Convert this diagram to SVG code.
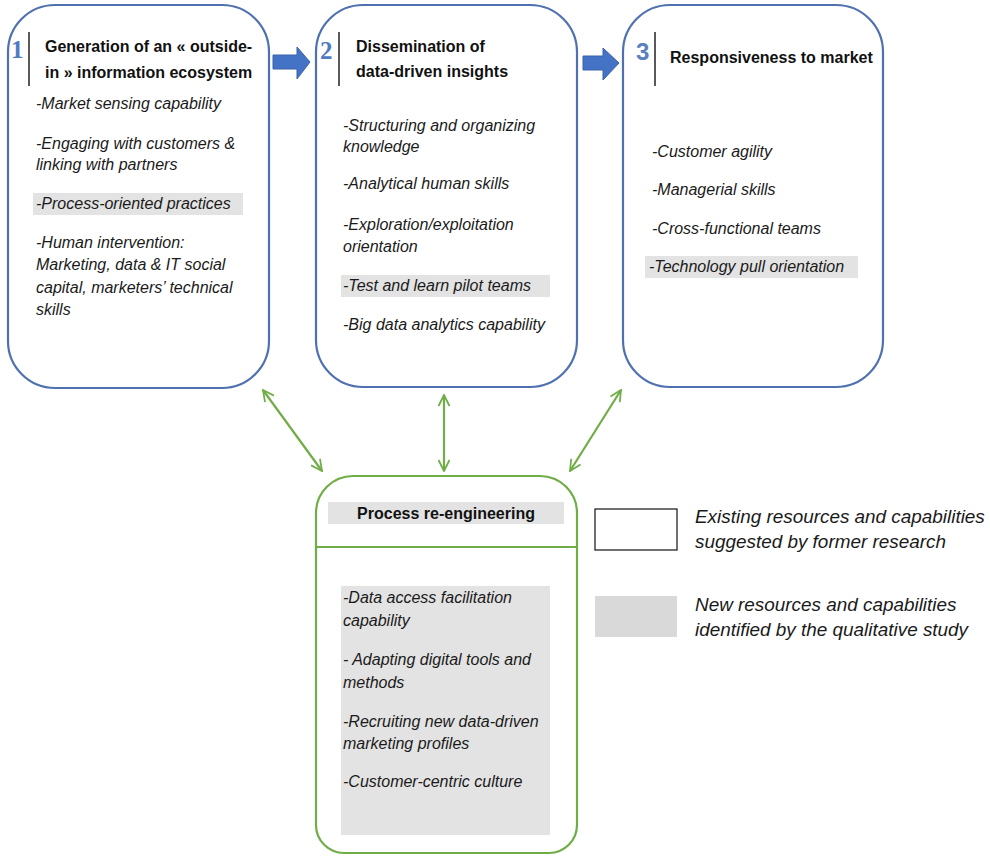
<svg xmlns="http://www.w3.org/2000/svg" width="990" height="857" viewBox="0 0 990 857">
  <style>
    .box { fill: #ffffff; stroke: #4f71b0; stroke-width: 2.2; }
    .gbox { fill: #ffffff; stroke: #70ad47; stroke-width: 2.2; }
    .hl { fill: #e3e3e3; }
    .num { font-family: "Liberation Serif", serif; font-weight: bold; font-size: 25px; fill: #4f7bc0; }
    .numsans { font-family: "Liberation Sans", Arial, sans-serif; font-weight: bold; font-size: 24px; fill: #5a80c0; }
    .bar { stroke: #222222; stroke-width: 1.5; }
    .title { font-family: "Liberation Sans", Arial, sans-serif; font-weight: bold; font-size: 16px; fill: #111111; }
    .item { font-family: "Liberation Sans", Arial, sans-serif; font-style: italic; font-size: 16px; fill: #1a1a1a; }
    .legend { font-family: "Liberation Sans", Arial, sans-serif; font-style: italic; font-size: 18.9px; fill: #1a1a1a; }
    .blue-arrow { fill: #4472c4; stroke: #3a62a8; stroke-width: 1; }
    .conn { stroke: #70ad47; stroke-width: 2.2; fill: none; marker-start: url(#chev); marker-end: url(#chev); }
  </style>
  <defs>
    <marker id="chev" viewBox="0 0 12 12" refX="11" refY="6" markerWidth="6" markerHeight="6" orient="auto-start-reverse" markerUnits="strokeWidth">
      <path d="M1,1 L11,6 L1,11" fill="none" stroke="#70ad47" stroke-width="1.6"/>
    </marker>
  </defs>
  <rect width="990" height="857" fill="#ffffff"/>

  <g id="node1">
    <rect class="box" x="8" y="5" width="261" height="383" rx="47" ry="47"/>
    <text class="num" x="11" y="58">1</text>
    <line class="bar" x1="29" y1="32" x2="29" y2="86"/>
    <text class="title" x="45" y="52">Generation of an « outside-</text>
    <text class="title" x="45" y="78">in » information ecosystem</text>
    <text class="item" x="36" y="109">-Market sensing capability</text>
    <text class="item" x="36" y="149">-Engaging with customers &amp;</text>
    <text class="item" x="36" y="170">linking with partners</text>
    <rect class="hl" x="33" y="193" width="210" height="22"/>
    <text class="item" x="36" y="209">-Process-oriented practices</text>
    <text class="item" x="36" y="248">-Human intervention:</text>
    <text class="item" x="36" y="270">Marketing, data &amp; IT social</text>
    <text class="item" x="36" y="293">capital, marketers’ technical</text>
    <text class="item" x="36" y="315">skills</text>
  </g>

  <g id="node2">
    <rect class="box" x="316" y="5" width="261" height="382" rx="47" ry="47"/>
    <text class="num" x="320" y="59">2</text>
    <line class="bar" x1="339" y1="32" x2="339" y2="86"/>
    <text class="title" x="356" y="52">Dissemination of</text>
    <text class="title" x="356" y="77">data-driven insights</text>
    <text class="item" x="343" y="131">-Structuring and organizing</text>
    <text class="item" x="343" y="152">knowledge</text>
    <text class="item" x="343" y="189">-Analytical human skills</text>
    <text class="item" x="343" y="230">-Exploration/exploitation</text>
    <text class="item" x="343" y="252">orientation</text>
    <rect class="hl" x="341" y="275" width="209" height="22"/>
    <text class="item" x="343" y="291">-Test and learn pilot teams</text>
    <text class="item" x="343" y="330">-Big data analytics capability</text>
  </g>

  <g id="node3">
    <rect class="box" x="623" y="5" width="260" height="382" rx="47" ry="47"/>
    <text class="numsans" x="636" y="60">3</text>
    <line class="bar" x1="655" y1="32" x2="655" y2="86"/>
    <text class="title" x="670" y="63">Responsiveness to market</text>
    <text class="item" x="652" y="157">-Customer agility</text>
    <text class="item" x="652" y="195">-Managerial skills</text>
    <text class="item" x="652" y="234">-Cross-functional teams</text>
    <rect class="hl" x="645" y="256" width="213" height="22"/>
    <text class="item" x="649" y="272">-Technology pull orientation</text>
  </g>

  <g id="node4">
    <path class="gbox" d="M353 476 H540 A37 37 0 0 1 577 513 V825 A28 28 0 0 1 549 853 H344 A28 28 0 0 1 316 825 V513 A37 37 0 0 1 353 476 Z"/>
    <line x1="316" y1="547" x2="577" y2="547" stroke="#70ad47" stroke-width="2.2"/>
    <rect class="hl" x="328" y="502" width="236" height="22"/>
    <text class="title" x="446" y="519" text-anchor="middle">Process re-engineering</text>
    <rect class="hl" x="341" y="586" width="209" height="249"/>
    <text class="item" x="343" y="603">-Data access facilitation</text>
    <text class="item" x="343" y="626">capability</text>
    <text class="item" x="343" y="665">- Adapting digital tools and</text>
    <text class="item" x="343" y="688">methods</text>
    <text class="item" x="343" y="727">-Recruiting new data-driven</text>
    <text class="item" x="343" y="749">marketing profiles</text>
    <text class="item" x="343" y="787">-Customer-centric culture</text>
  </g>

  <g id="legend">
    <rect x="595" y="509" width="82" height="41" fill="#ffffff" stroke="#111111" stroke-width="1.2"/>
    <text class="legend" x="695" y="523">Existing resources and capabilities</text>
    <text class="legend" x="695" y="548">suggested by former research</text>
    <rect x="595" y="596" width="82" height="41" fill="#d9d9d9"/>
    <text class="legend" x="695" y="611">New resources and capabilities</text>
    <text class="legend" x="695" y="636">identified by the qualitative study</text>
  </g>

  <g id="connectors">
    <polygon class="blue-arrow" points="273,55 297,55 297,47 310,62 297,79 297,69 273,69"/>
    <polygon class="blue-arrow" points="583,56 603,56 603,48 619,63 603,80 603,70 583,70"/>
    <line class="conn" x1="263" y1="390" x2="322" y2="471"/>
    <line class="conn" x1="444" y1="395" x2="444" y2="471"/>
    <line class="conn" x1="621" y1="390" x2="570" y2="471"/>
  </g>
</svg>
